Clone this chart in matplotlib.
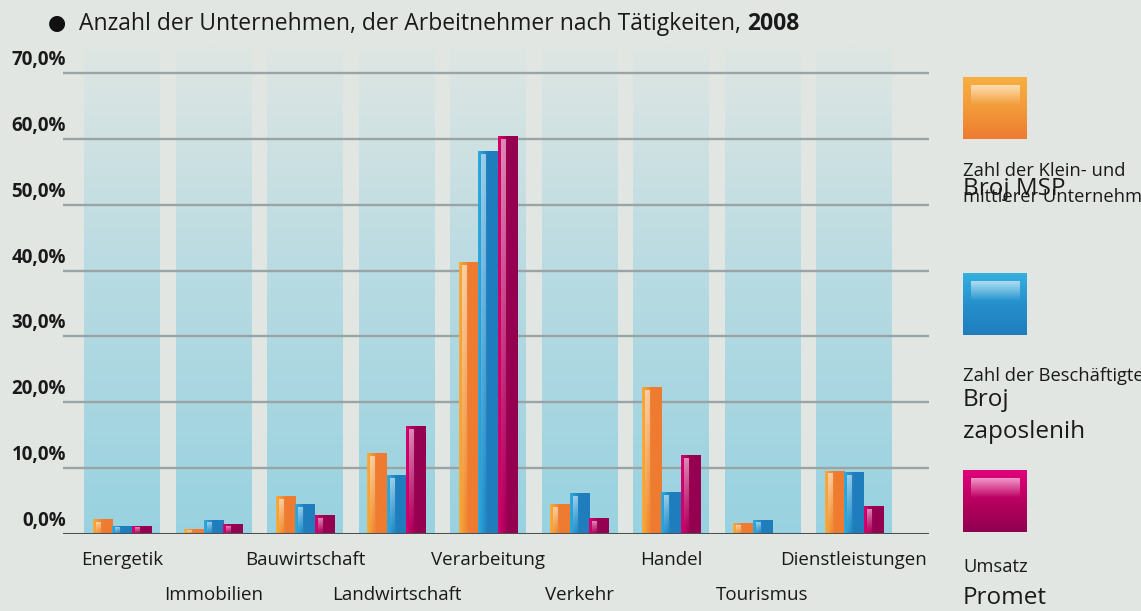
import numpy as np
import matplotlib.pyplot as plt
import matplotlib.transforms as mtransforms
from matplotlib.colors import LinearSegmentedColormap

plt.rcParams['font.family'] = ['Open Sans', 'DejaVu Sans']

# data (share in %, 2008)
categories = ["Energetik", "Immobilien", "Bauwirtschaft", "Landwirtschaft",
              "Verarbeitung", "Verkehr", "Handel", "Tourismus", "Dienstleistungen"]
msp = [2.2, 0.7, 5.7, 12.3, 41.3, 4.5, 22.3, 1.6, 9.6]
employees = [1.2, 2.1, 4.5, 8.9, 58.2, 6.2, 6.3, 2.1, 9.4]
turnover = [1.2, 1.5, 2.8, 16.4, 60.4, 2.4, 12.0, 0.0, 4.2]
yticks = [0, 10, 20, 30, 40, 50, 60, 70]
ytick_labels = ["0,0%", "10,0%", "20,0%", "30,0%", "40,0%", "50,0%", "60,0%", "70,0%"]

# colours: (left/light, right/dark)
series = [
    (msp, "#f8ad3a", "#ee7b30"),
    (employees, "#2eabdf", "#1f7dbd"),
    (turnover, "#d8006f", "#950050"),
]

W, H = 1141, 611
BG = "#e1e6e3"

fig = plt.figure(figsize=(W / 100, H / 100), dpi=100)
fig.patch.set_facecolor(BG)

y0, ytop = 533.7, 45
ax = fig.add_axes([63 / W, (H - y0) / H, (929 - 63) / W, (y0 - ytop) / H])
ax.set_facecolor("none")
ymax = 74.3
for s in ax.spines.values():
    s.set_visible(False)
ax.set_xticks([])
ax.set_yticks([])

# pale blue background columns
col_cmap = LinearSegmentedColormap.from_list("col", ["#98d2e0", "#b6dae2", "#dfe6e3"])
grad_v = np.linspace(0, 1, 256).reshape(-1, 1)
for i in range(len(categories)):
    ax.imshow(grad_v, cmap=col_cmap, origin="lower", aspect="auto",
              extent=[i - 0.415, i + 0.415, 0, ymax], zorder=0)

# grid lines
for t in yticks[1:]:
    ax.axhline(t, color="#9aa4a4", lw=1.7, zorder=1)
ax.axhline(0, color="#4b5050", lw=2.2, zorder=6)

# bars with horizontal gradient + highlight stripe
w = 0.213
x = np.arange(len(categories))
grad_h = np.linspace(0, 1, 64).reshape(1, -1)
stripe = np.ones((64, 1, 4))
stripe[:, 0, 3] = np.linspace(0.0, 0.6, 64) ** 1.2
for k, (vals, c1, c2) in enumerate(series):
    bars = ax.bar(x + (k - 1) * w, vals, w, color=c2, lw=0, zorder=3)
    cmap = LinearSegmentedColormap.from_list("b%d" % k, [c1, c2, c2])
    for b in bars:
        h = b.get_height()
        if h <= 0:
            continue
        bx = b.get_x()
        im = ax.imshow(grad_h, cmap=cmap, aspect="auto",
                       extent=[bx, bx + w, 0, h], zorder=3.5)
        im.set_clip_path(b)
        gap = min(0.45, h * 0.2)
        ax.imshow(stripe, origin="lower", aspect="auto",
                  extent=[bx + 0.15 * w, bx + 0.38 * w, 0, h - gap], zorder=4)

ax.set_xlim(-0.645, 8.82)
ax.set_ylim(0, ymax)

# y labels, slightly above their grid line
trans = mtransforms.blended_transform_factory(fig.transFigure, ax.transData)
trans = mtransforms.offset_copy(trans, fig=fig, y=9.4, units="points")
for t, lab in zip(yticks, ytick_labels):
    fig.text(66 / W, t, lab, transform=trans, ha="right", va="center",
             fontsize=13.5, fontweight="bold", color="#1a1a1a")

# category labels on two staggered rows
lab_trans = mtransforms.blended_transform_factory(ax.transData, fig.transFigure)
for i, cat in enumerate(categories):
    ypix = 560 if i % 2 == 0 else 595
    ax.text(i, 1 - ypix / H, cat, transform=lab_trans,
            fontsize=13.5, ha="center", va="center", color="#1a1a1a")

# title
ty = 1 - 24 / H
fig.text(57 / W, ty, "\u25cf", fontsize=15, ha="center", va="center", color="#111111")
t1 = fig.text(79 / W, ty, "Anzahl der Unternehmen, der Arbeitnehmer nach T\u00e4tigkeiten, ",
              fontsize=16.5, ha="left", va="center", color="#1a1a1a")
fig.canvas.draw()
bb = t1.get_window_extent()
fig.text(bb.x1 / W, ty, "2008", fontsize=16.5, fontweight="bold", color="#1a1a1a",
         ha="left", va="center")

# legend swatches
def swatch(ypix, c_top, c_mid, c_bot):
    sax = fig.add_axes([963 / W, 1 - (ypix + 62) / H, 64 / W, 62 / H])
    sax.set_axis_off()
    cm = LinearSegmentedColormap.from_list("s", [c_top, c_mid, c_bot])
    sax.imshow(np.linspace(0, 1, 128).reshape(-1, 1), cmap=cm, aspect="auto",
               extent=[0, 1, 0, 1])
    hl = np.ones((64, 1, 4))
    hl[:, 0, 3] = np.linspace(0.0, 0.6, 64)
    sax.imshow(hl, origin="lower", aspect="auto", extent=[0.12, 0.88, 0.55, 0.86])
    sax.set_xlim(0, 1)
    sax.set_ylim(0, 1)

swatch(77, "#f7b040", "#f39a3a", "#ee7b30")
swatch(273, "#35b0e0", "#2590cc", "#1f7dbd")
swatch(470, "#e0007a", "#b8005f", "#8f0050")

small, big = 13.2, 17.5
legend_texts = [
    ("Zahl der Klein- und", 171, small),
    ("mittlerer Unternehmen", 197, small),
    ("Broj MSP", 189, big),
    ("Zahl der Besch\u00e4ftigten", 376, small),
    ("Broj", 400, big),
    ("zaposlenih", 432, big),
    ("Umsatz", 567, small),
    ("Promet", 598, big),
]
for txt, ypix, fs in legend_texts:
    fig.text(963 / W, 1 - ypix / H, txt, fontsize=fs, ha="left", va="center", color="#1a1a1a")

fig.savefig("out.png", dpi=100, facecolor=BG)
